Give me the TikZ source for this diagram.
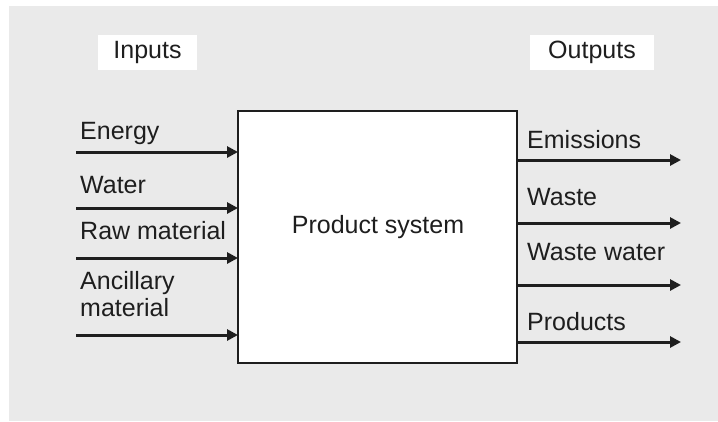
\documentclass[tikz,border=0pt]{standalone}
\usepackage{fontspec}
\setmainfont{Liberation Sans}
\usetikzlibrary{arrows.meta}
\definecolor{bggray}{RGB}{234,234,234}
\definecolor{inkc}{RGB}{30,30,30}
\tikzset{
  lbl/.style={anchor=west, inner sep=0pt, font=\fontsize{25}{27}\selectfont, text=inkc, align=left},
  hdr/.style={fill=white, minimum width=99pt, minimum height=35pt, inner sep=0pt, font=\fontsize{25}{27}\selectfont, text=inkc},
  flow/.style={line width=3pt, draw=inkc, -{Triangle[length=11pt,width=11pt]}, shorten >=-1pt},
  sysbox/.style={draw=inkc, line width=2pt, fill=white}
}
\begin{document}
\begin{tikzpicture}[x=1pt,y=-1pt]
\useasboundingbox (0,0) rectangle (718,421);
\fill[white] (0,0) rectangle (718,421);
\fill[bggray] (9,6) rectangle (718,421);
% headers
\node[hdr] (inputs) at (147.5,52.5) {Inputs};
\node[hdr, minimum width=124pt] (outputs) at (592,52.5) {Outputs};
% main box
\node[sysbox, minimum width=279pt, minimum height=252pt, inner sep=0pt] (sys) at (377.5,237) {};
\node[font=\fontsize{25}{27}\selectfont, text=inkc, inner sep=0pt] (systxt) at (378,227) {Product system};
% input start coordinates
\coordinate (i1) at (76,152);
\coordinate (i2) at (76,208);
\coordinate (i3) at (76,258);
\coordinate (i4) at (76,335);
\draw[flow] (i1) -- (i1 -| sys.west);
\draw[flow] (i2) -- (i2 -| sys.west);
\draw[flow] (i3) -- (i3 -| sys.west);
\draw[flow] (i4) -- (i4 -| sys.west);
\node[lbl] (energy) at (80,133) {Energy};
\node[lbl] (water) at (80,185) {Water};
\node[lbl] (raw) at (80,231) {Raw material};
\node[lbl] (anc) at (80,294) {Ancillary\\material};
% outputs
\coordinate (o1) at (680,160);
\coordinate (o2) at (680,223);
\coordinate (o3) at (680,285);
\coordinate (o4) at (680,342);
\draw[flow] (o1 -| sys.east) -- (o1);
\draw[flow] (o2 -| sys.east) -- (o2);
\draw[flow] (o3 -| sys.east) -- (o3);
\draw[flow] (o4 -| sys.east) -- (o4);
\node[lbl] (emis) at (527,140) {Emissions};
\node[lbl] (waste) at (527,197) {Waste};
\node[lbl] (ww) at (527,252) {Waste water};
\node[lbl] (prod) at (527,322) {Products};
\end{tikzpicture}
\end{document}
